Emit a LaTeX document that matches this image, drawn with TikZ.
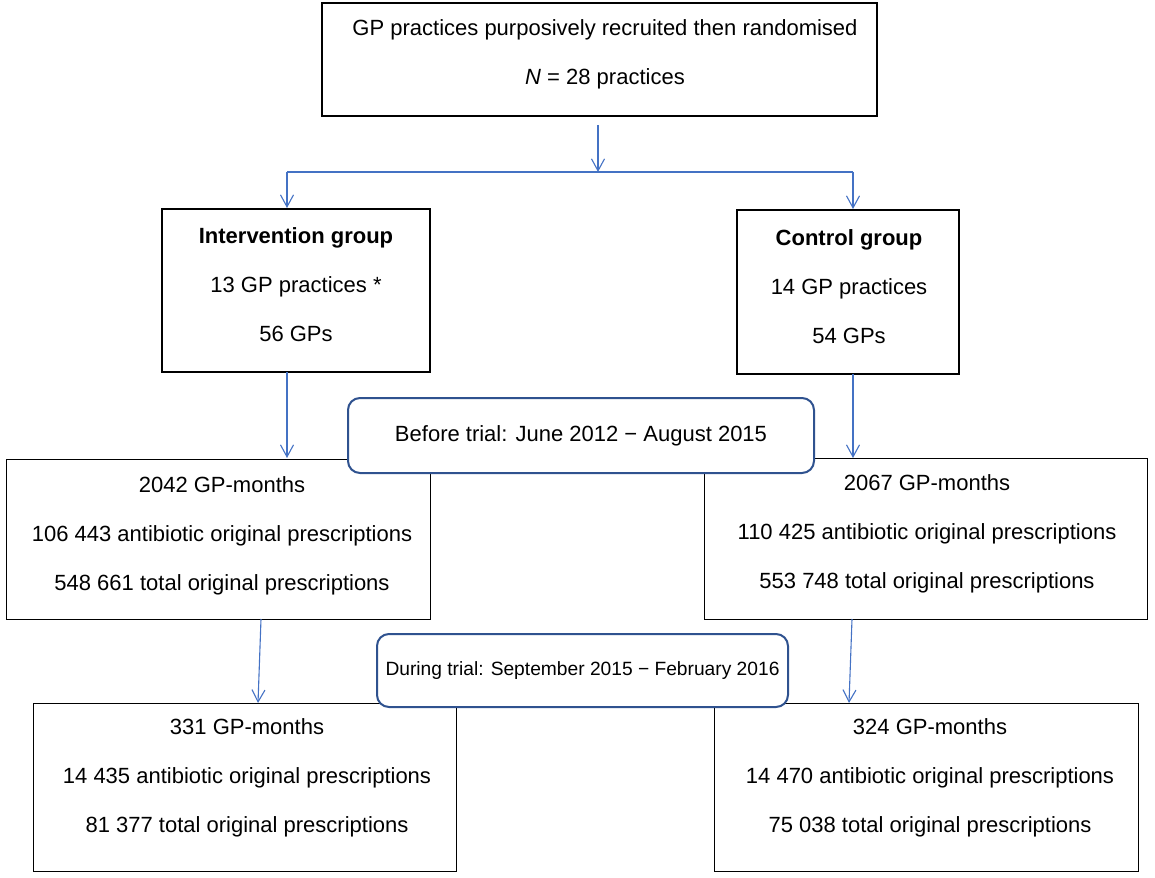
\documentclass[tikz,border=0pt]{standalone}
\usepackage{fontspec}
\setmainfont{Liberation Sans}
\usetikzlibrary{arrows.meta}
\definecolor{arrowblue}{HTML}{4472C4}
\definecolor{roundblue}{HTML}{2F528F}
\tikzset{
  thickbox/.style={draw=black, line width=2pt, inner sep=0pt},
  thinbox/.style={draw=black, line width=1pt, inner sep=0pt},
  roundbox/.style={draw=roundblue, line width=2pt, rounded corners=12pt, fill=white, inner sep=0pt},
  txt/.style={align=center, inner sep=0pt, font=\fontsize{22}{49}\selectfont},
  arr/.style={draw=arrowblue, line width=1.1pt, -{Straight Barb[length=12pt,width=13pt]}},
  ln/.style={draw=arrowblue, line width=1.1pt}
}
\begin{document}
\begin{tikzpicture}[x=1pt,y=-1pt]
\useasboundingbox (0,0) rectangle (1155,877);
% boxes
\node[thickbox, minimum width=555pt, minimum height=113pt] (top) at (599.5,59.5) {};
\node[thickbox, minimum width=268pt, minimum height=163pt] (iv) at (296,290.5) {};
\node[thickbox, minimum width=222pt, minimum height=164pt] (ct) at (848,292) {};
\node[thinbox, minimum width=424pt, minimum height=160pt] (ivb) at (218,539) {};
\node[thinbox, minimum width=443pt, minimum height=161pt] (ctb) at (925.5,538.5) {};
\node[thinbox, minimum width=423pt, minimum height=168pt] (ivd) at (244.5,787) {};
\node[thinbox, minimum width=424pt, minimum height=168pt] (ctd) at (926,787) {};
% texts
\node[txt] (toptxt) at (605,54) {GP practices purposively recruited then randomised\\\textit{N} = 28 practices};
\node[txt] (ivtxt) at (296,285) {\textbf{Intervention group}\\13 GP practices *\\56 GPs};
\node[txt] (cttxt) at (849,286.5) {\textbf{Control group}\\14 GP practices\\54 GPs};
\node[txt] (ivbtxt) at (222,536) {2042 GP-months\\106 443 antibiotic original prescriptions\\548 661 total original prescriptions};
\node[txt] (ctbtxt) at (927,534) {2067 GP-months\\110 425 antibiotic original prescriptions\\553 748 total original prescriptions};
\node[txt] (ivdtxt) at (247,778) {331 GP-months\\14 435 antibiotic original prescriptions\\81 377 total original prescriptions};
\node[txt] (ctdtxt) at (930,778) {324 GP-months\\14 470 antibiotic original prescriptions\\75 038 total original prescriptions};
% connectors
\coordinate (split) at (598,172);
\coordinate (sl) at (287,172);
\coordinate (sr) at (853,172);
\draw[arr] (598,125) -- (split);
\draw[ln] (sl) -- (sr);
\draw[arr] (sl) -- (sl |- iv.north);
\draw[arr] (sr) -- (sr |- ct.north);
\draw[arr] (287,372) -- (287,458);
\draw[arr] (853,374) -- (853,458);
\draw[arr] (261,619) -- (258,703);
\draw[arr] (852,619) -- (849,703);
% rounded period boxes
\node[roundbox, minimum width=466pt, minimum height=75pt, font=\fontsize{22}{26}\selectfont] (before) at (581,435.5) {Before trial: June 2012 − August 2015};
\node[roundbox, minimum width=411pt, minimum height=73pt, font=\fontsize{19.2}{23}\selectfont] (during) at (582.5,670.5) {During trial: September 2015 − February 2016};
\end{tikzpicture}
\end{document}
